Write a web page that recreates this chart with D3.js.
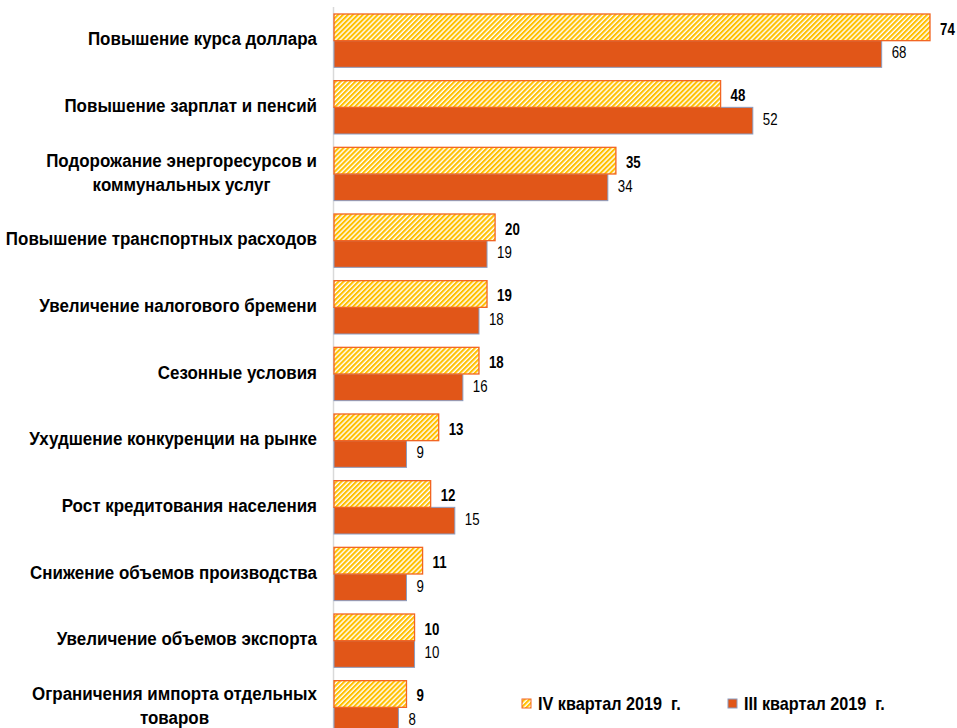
<!DOCTYPE html>
<html><head><meta charset="utf-8">
<script src="https://cdn.jsdelivr.net/npm/d3@7"></script>
<style>
html,body{margin:0;padding:0;background:#fff;}
svg{display:block;}
text{font-family:"Liberation Sans",Arial,sans-serif;fill:#000;}
</style></head>
<body>
<svg id="chart" width="957" height="728"></svg>
<script>
const categories = [
  ["Повышение курса доллара"],
  ["Повышение зарплат и пенсий"],
  ["Подорожание энергоресурсов и", "коммунальных услуг"],
  ["Повышение транспортных расходов"],
  ["Увеличение налогового бремени"],
  ["Сезонные условия"],
  ["Ухудшение конкуренции на рынке"],
  ["Рост кредитования населения"],
  ["Снижение объемов производства"],
  ["Увеличение объемов экспорта"],
  ["Ограничения импорта отдельных", "товаров"]
];
const seriesNames = ["IV квартал 2019  г.", "III квартал 2019  г."];
const q4Values = [74, 48, 35, 20, 19, 18, 13, 12, 11, 10, 9];
const q3Values = [68, 52, 34, 19, 18, 16, 9, 15, 9, 10, 8];

const svg = d3.select("#chart");
const W = 957, H = 728;
const x0 = 334;

function narrow(parent, px, py, str, size, weight, anchor, sx) {
  const g = parent.append("g").attr("transform", `translate(${px},${py}) scale(${sx},1)`);
  g.append("text").attr("x", 0).attr("y", 0)
    .attr("text-anchor", anchor || "start")
    .attr("dominant-baseline", "middle")
    .attr("xml:space", "preserve")
    .style("font-size", size + "px").style("font-weight", weight)
    .text(str);
  return g;
}

const defs = svg.append("defs");
const pat = defs.append("pattern")
  .attr("id", "hatch").attr("patternUnits", "userSpaceOnUse")
  .attr("width", 3.5).attr("height", 3.5)
  .attr("patternTransform", "rotate(45)");
pat.append("rect").attr("width", 3.5).attr("height", 3.5).attr("fill", "#ffffff");
pat.append("rect").attr("width", 2.1).attr("height", 3.5).attr("fill", "#FFC000");

const x = d3.scaleLinear().domain([0, 74]).range([x0, 930]);
const y = d3.scaleBand().domain(d3.range(categories.length))
  .range([7.33, 740.67]).paddingInner(0.2).paddingOuter(0.1);
const bh = y.bandwidth() / 2;

svg.append("line").attr("x1", x0 - 0.5).attr("x2", x0 - 0.5)
  .attr("y1", 7).attr("y2", H).attr("stroke", "#d9d9d9").attr("stroke-width", 1.5);

const g = svg.append("g");
g.selectAll("rect.q3").data(q3Values).enter().append("rect")
  .attr("class", "q3")
  .attr("x", x0).attr("y", (d, i) => y(i) + bh)
  .attr("width", d => x(d) - x0).attr("height", bh)
  .attr("fill", "#E15618").attr("stroke", "#8A9CC0").attr("stroke-width", 1);
g.selectAll("rect.q4").data(q4Values).enter().append("rect")
  .attr("class", "q4")
  .attr("x", x0).attr("y", (d, i) => y(i))
  .attr("width", d => x(d) - x0).attr("height", bh)
  .attr("fill", "url(#hatch)").attr("stroke", "#F26522").attr("stroke-width", 1.3);

// value labels
q4Values.forEach((d, i) => narrow(g, x(d) + 10, y(i) + bh / 2 + 3, String(d), 16, "bold", "start", 0.83));
q3Values.forEach((d, i) => narrow(g, x(d) + 10, y(i) + bh * 1.5, String(d), 16, "normal", "start", 0.83));

// category labels
const lab = svg.append("g");
const LX = 317, LS = 17.5, LSX = 0.97;
categories.forEach((lines, i) => {
  const cy = y(i) + y.bandwidth() / 2;
  const n = lines.length;
  if (n === 1) {
    narrow(lab, LX, cy, lines[0], LS, "bold", "end", LSX);
  } else {
    const gs = lines.map((s, k) => narrow(lab, 0, cy + (k - (n - 1) / 2) * 24, s, LS, "bold", "middle", LSX));
    const w = d3.max(gs, gg => gg.select("text").node().getComputedTextLength()) * LSX;
    gs.forEach((gg, k) => gg.attr("transform",
      `translate(${LX - w / 2},${cy + (k - (n - 1) / 2) * 24}) scale(${LSX},1)`));
  }
});

// legend
const leg = svg.append("g");
const legX = [522, 728];
const legY = 704;
leg.append("rect").attr("x", legX[0]).attr("y", legY - 5).attr("width", 9).attr("height", 9)
  .attr("fill", "url(#hatch)").attr("stroke", "#F26522").attr("stroke-width", 1);
leg.append("rect").attr("x", legX[1]).attr("y", legY - 5).attr("width", 9).attr("height", 9)
  .attr("fill", "#E15618").attr("stroke", "#8A9CC0").attr("stroke-width", 1);
seriesNames.forEach((s, i) => narrow(leg, legX[i] + 16, legY + 1, s, 18, "bold", "start", 0.9));
</script>
</body></html>
